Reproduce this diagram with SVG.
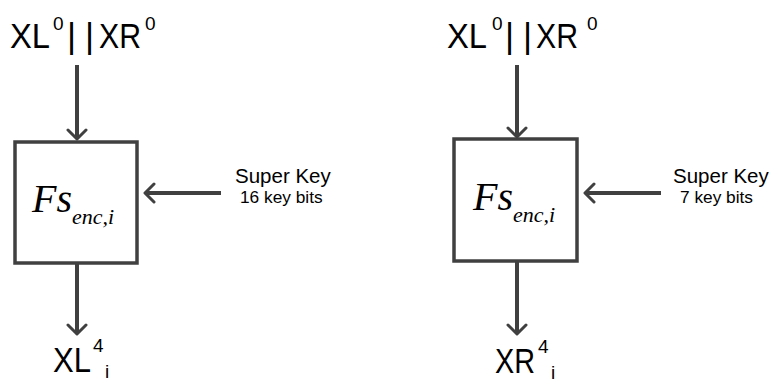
<svg xmlns="http://www.w3.org/2000/svg" width="770" height="383" viewBox="0 0 770 383">
<defs>
<marker id="ah" markerWidth="14" markerHeight="24" viewBox="0 0 14 24" refX="12" refY="12" orient="auto" markerUnits="userSpaceOnUse">
<path d="M3,3 L12,12 L3,21" fill="none" stroke="#404040" stroke-width="3" stroke-linecap="round" stroke-linejoin="round"/>
</marker>
<style>
.box{fill:#fff;stroke:#404040;stroke-width:3.5}
.ln{stroke:#404040;stroke-width:4;fill:none;marker-end:url(#ah)}
.big{font-family:"Liberation Sans",Arial,sans-serif;font-size:35px;fill:#000}
.sup{font-family:"Liberation Sans",Arial,sans-serif;font-size:19px;fill:#000}
.fs{font-family:"Liberation Serif","Times New Roman",serif;font-style:italic;font-size:40px;fill:#000}
.sub{font-size:22px}
.k1{font-family:"Liberation Sans",Arial,sans-serif;font-size:20.5px;fill:#000}
.k2{font-family:"Liberation Sans",Arial,sans-serif;font-size:17.3px;fill:#000}
</style>
</defs>
<g id="connectors">
<line class="ln" x1="77" y1="65" x2="77" y2="139"/>
<line class="ln" x1="77" y1="263" x2="77" y2="334"/>
<line class="ln" x1="221" y1="193" x2="145" y2="193"/>
<line class="ln" x1="517" y1="65" x2="517" y2="137"/>
<line class="ln" x1="517" y1="261" x2="517" y2="334"/>
<line class="ln" x1="661" y1="193" x2="585" y2="193"/>
</g>
<g id="in1">
<text class="big" y="48"><tspan x="10" textLength="40" lengthAdjust="spacingAndGlyphs">XL</tspan><tspan x="67">|</tspan><tspan x="85">|</tspan><tspan x="99" textLength="42" lengthAdjust="spacingAndGlyphs">XR</tspan></text>
<text class="sup" y="30"><tspan x="53">0</tspan><tspan x="145">0</tspan></text>
</g>
<g id="box1">
<rect class="box" x="15" y="142" width="122" height="121"/>
<text class="fs" x="32" y="212">Fs<tspan class="sub" dy="12">enc,i</tspan></text>
</g>
<g id="key1"><text class="k1" x="235" y="183">Super Key</text><text class="k2" x="240" y="203">16 key bits</text></g>
<g id="out1">
<text class="big" x="53" y="372" textLength="38" lengthAdjust="spacingAndGlyphs">XL</text>
<text class="sup" x="93" y="352">4</text>
<text class="sup" x="105" y="378">i</text>
</g>
<g id="in2">
<text class="big" y="48"><tspan x="447" textLength="40" lengthAdjust="spacingAndGlyphs">XL</tspan><tspan x="505">|</tspan><tspan x="523">|</tspan><tspan x="536" textLength="42" lengthAdjust="spacingAndGlyphs">XR</tspan></text>
<text class="sup" y="30"><tspan x="492">0</tspan><tspan x="587">0</tspan></text>
</g>
<g id="box2">
<rect class="box" x="454" y="139" width="123" height="122"/>
<text class="fs" x="473" y="210">Fs<tspan class="sub" dy="12">enc,i</tspan></text>
</g>
<g id="key2"><text class="k1" x="673" y="183">Super Key</text><text class="k2" x="680" y="203">7 key bits</text></g>
<g id="out2">
<text class="big" x="495" y="373" textLength="40" lengthAdjust="spacingAndGlyphs">XR</text>
<text class="sup" x="538" y="353">4</text>
<text class="sup" x="551" y="379">i</text>
</g>
</svg>
